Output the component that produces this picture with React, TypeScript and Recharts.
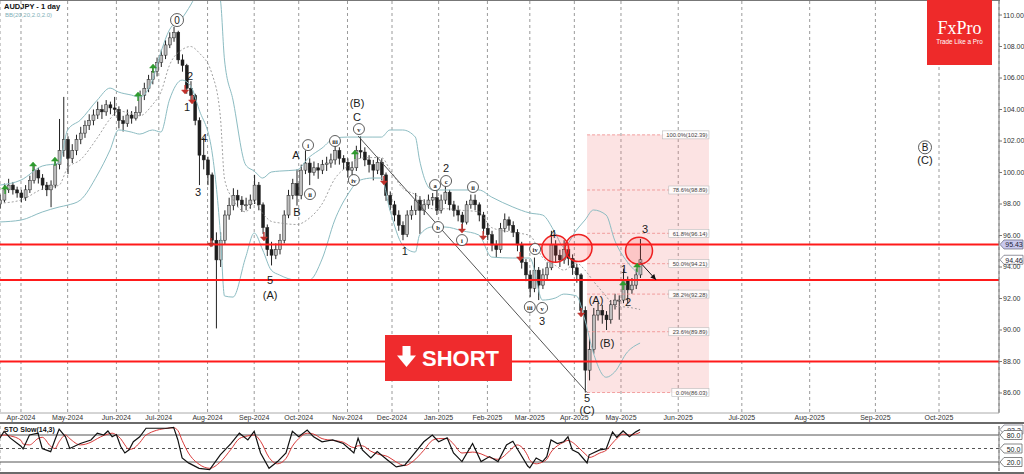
import React from 'react';
import { ComposedChart, Bar, Line, XAxis, YAxis, CartesianGrid, ReferenceLine, ReferenceArea, ReferenceDot } from 'recharts';

// x axis is counted in trading days, slot 0 = 1 Apr 2024; one candle per 2 days
const FIRST_SLOT = -10;

// [open, high, low, close]
const ohlc: [number, number, number, number][] = [
  [98.0, 98.6, 97.7, 98.25], [98.25, 99.3, 98.1, 98.9], [98.9, 99.6, 98.7, 99.2], [99.2, 99.4, 98.6, 98.9],
  [98.9, 99.1, 98.4, 98.7], [98.7, 98.9, 98.1, 98.4], [98.4, 99.2, 98.2, 98.9], [98.9, 99.8, 98.7, 99.5],
  [99.5, 100.5, 99.3, 100.15], [100.15, 100.3, 99.3, 99.65], [99.65, 99.9, 98.9, 99.2], [99.2, 99.4, 98.5, 98.9],
  [98.9, 99.5, 97.8, 99.2], [99.2, 100.7, 99.0, 100.5], [100.5, 103.4, 100.2, 101.4], [101.4, 104.8, 101.0, 102.1],
  [102.1, 102.3, 99.9, 100.9], [100.9, 101.8, 100.6, 101.4], [101.4, 102.4, 101.1, 102.1], [102.1, 102.9, 101.8, 102.5],
  [102.5, 103.3, 102.2, 103.0], [103.0, 103.7, 102.7, 103.3], [103.3, 104.0, 103.0, 103.65], [103.65, 104.5, 103.4, 104.0],
  [104.0, 104.3, 103.4, 103.85], [103.85, 104.6, 103.6, 104.3], [104.3, 104.5, 103.7, 104.1], [104.1, 104.8, 103.6, 104.0],
  [104.0, 104.2, 102.8, 103.3], [103.3, 103.6, 102.6, 103.1], [103.1, 104.0, 102.9, 103.65], [103.65, 103.9, 103.1, 103.45],
  [103.45, 104.2, 103.3, 103.8], [103.8, 105.2, 103.6, 104.9], [104.9, 105.7, 104.6, 105.35], [105.35, 106.2, 105.1, 105.9],
  [105.9, 106.7, 105.6, 106.4], [106.4, 107.3, 106.1, 107.0], [107.0, 107.8, 106.7, 107.45], [107.45, 108.4, 107.2, 108.1],
  [108.1, 108.9, 107.9, 108.55], [108.55, 109.25, 108.3, 108.9], [108.9, 109.0, 106.9, 107.15], [107.15, 107.5, 106.4, 106.8],
  [106.8, 106.9, 105.0, 105.35], [105.35, 105.8, 104.5, 104.9], [104.9, 105.0, 103.0, 103.3], [103.3, 103.5, 99.2, 101.1],
  [101.1, 102.2, 100.2, 100.8], [100.8, 101.0, 99.2, 99.85], [99.85, 100.0, 95.3, 95.7], [95.7, 96.2, 90.1, 94.45],
  [94.45, 96.2, 94.0, 95.7], [95.7, 97.6, 95.4, 97.3], [97.3, 98.4, 97.0, 97.9], [97.9, 99.0, 97.6, 98.55],
  [98.55, 98.9, 97.8, 98.25], [98.25, 98.5, 97.5, 97.95], [97.95, 98.4, 97.6, 97.95], [97.95, 98.6, 97.7, 98.25],
  [98.25, 99.85, 98.0, 99.2], [99.2, 99.4, 97.6, 97.95], [97.95, 98.1, 96.1, 96.5], [96.5, 96.7, 94.7, 95.1],
  [95.1, 95.6, 94.1, 94.75], [94.75, 95.5, 94.5, 95.1], [95.1, 96.1, 94.8, 95.7], [95.7, 97.6, 95.5, 97.3],
  [97.3, 98.9, 97.1, 98.55], [98.55, 99.6, 98.3, 99.3], [99.3, 100.2, 97.9, 98.55], [98.55, 100.5, 98.3, 100.15],
  [100.15, 101.4, 99.9, 100.6], [100.6, 100.9, 99.2, 100.0], [100.0, 100.7, 99.8, 100.3], [100.3, 100.6, 99.6, 100.15],
  [100.15, 100.8, 99.9, 100.5], [100.5, 101.0, 100.1, 100.6], [100.6, 101.2, 100.3, 100.8], [100.8, 102.05, 100.5, 101.4],
  [101.4, 101.6, 100.5, 100.9], [100.9, 101.1, 100.2, 100.65], [100.65, 100.9, 99.7, 100.15], [100.15, 100.7, 99.8, 100.3],
  [100.3, 101.7, 100.1, 101.4], [101.4, 102.3, 100.9, 101.3], [101.3, 101.6, 100.4, 100.8], [100.8, 101.1, 100.0, 100.5],
  [100.5, 100.8, 99.5, 100.15], [100.15, 101.0, 99.9, 100.65], [100.65, 100.9, 99.5, 99.85], [99.85, 100.0, 98.2, 98.55],
  [98.55, 98.8, 97.6, 97.95], [97.95, 98.2, 96.9, 97.3], [97.3, 97.6, 96.3, 96.65], [96.65, 96.9, 95.7, 96.05],
  [96.05, 97.6, 95.9, 97.3], [97.3, 97.9, 97.0, 97.6], [97.6, 98.7, 97.3, 98.25], [98.25, 98.5, 96.1, 97.6],
  [97.6, 98.3, 97.3, 97.95], [97.95, 98.6, 97.7, 98.25], [98.25, 98.7, 97.9, 98.4], [98.4, 98.9, 97.3, 97.6],
  [97.6, 98.6, 97.4, 98.25], [98.25, 99.1, 98.0, 98.75], [98.75, 98.9, 97.6, 97.95], [97.95, 98.2, 97.2, 97.6],
  [97.6, 97.9, 96.9, 97.3], [97.3, 97.5, 96.3, 96.85], [96.85, 98.2, 96.7, 97.95], [97.95, 98.6, 97.7, 98.25],
  [98.25, 98.6, 97.6, 97.95], [97.95, 98.1, 96.9, 97.3], [97.3, 97.5, 96.1, 96.45], [96.45, 96.8, 95.7, 96.05],
  [96.05, 96.3, 95.0, 95.4], [95.4, 95.7, 94.6, 95.1], [95.1, 96.8, 94.9, 96.45], [96.45, 97.4, 96.2, 97.0],
  [97.0, 97.2, 96.3, 96.65], [96.65, 96.9, 95.9, 96.2], [96.2, 96.4, 95.0, 95.4], [95.4, 95.6, 93.9, 94.3],
  [94.3, 94.5, 93.1, 93.5], [93.5, 93.8, 92.1, 92.65], [92.65, 94.6, 92.4, 93.8], [93.8, 94.0, 91.9, 92.85],
  [92.85, 93.9, 92.6, 93.5], [93.5, 94.3, 93.2, 93.95], [93.95, 96.3, 93.8, 95.4], [95.4, 95.7, 94.3, 94.75],
  [94.75, 95.1, 94.0, 94.45], [94.45, 95.7, 94.2, 95.1], [95.1, 95.4, 94.1, 94.55], [94.55, 94.8, 93.5, 93.95],
  [93.95, 94.2, 93.0, 93.5], [93.5, 93.6, 90.9, 91.25], [91.25, 91.5, 86.03, 87.45], [87.45, 89.5, 86.8, 88.75],
  [88.75, 91.4, 88.5, 90.95], [90.95, 91.7, 90.6, 91.25], [91.25, 91.6, 90.4, 90.95], [90.95, 91.2, 90.0, 90.65],
  [90.65, 91.9, 90.4, 91.6], [91.6, 92.3, 91.3, 91.9], [91.9, 92.2, 90.65, 91.9], [91.9, 93.9, 91.7, 93.15],
  [93.15, 93.4, 91.7, 92.55], [92.55, 93.3, 92.3, 92.85], [92.85, 93.9, 92.6, 93.5], [93.5, 95.78, 93.3, 94.46],
];

// Bollinger bands
const bbSlots = [-10, 0, 10, 18, 22, 28, 36, 42, 46, 52, 56, 62, 66, 70, 76, 80, 84, 90, 94, 96, 100, 106, 110, 114, 118, 122, 130, 136, 142, 148, 154, 160, 166, 170, 174, 180, 186, 188, 194, 200, 208, 216, 222, 232, 240, 246, 252, 256, 262, 266, 270, 276, 280, 286, 292];
const bbUpper = [99.2, 99.52, 100.41, 100.6, 102.7, 103.33, 104.6, 105.36, 105.11, 104.92, 104.79, 105.87, 107.65, 109.05, 109.81, 110.63, 111.6, 112.2, 111.0, 107.14, 104.6, 100.48, 100.09, 99.65, 100.03, 100.09, 100.16, 100.98, 101.55, 102.19, 102.25, 102.25, 102.25, 102.25, 102.7, 102.7, 102.25, 100.79, 98.89, 98.89, 98.89, 98.89, 98.44, 97.81, 97.43, 97.3, 96.16, 95.27, 96.35, 96.98, 97.62, 97.3, 95.71, 94.32, 93.49];
const bbMid = [98.05, 98.25, 98.95, 99.2, 100.3, 100.8, 102.2, 103.4, 103.9, 103.75, 103.6, 104.3, 105.1, 106.8, 107.8, 108.0, 107.6, 106.3, 103.6, 99.6, 98.3, 97.5, 98.1, 97.4, 96.9, 96.8, 96.7, 97.1, 98.0, 99.6, 100.4, 100.9, 100.95, 100.95, 100.2, 99.0, 98.6, 98.4, 97.7, 97.7, 97.6, 97.5, 96.5, 96.2, 96.0, 94.6, 94.1, 93.8, 94.25, 93.8, 93.1, 92.15, 91.5, 91.45, 91.3];
const bbLower = [96.86, 96.98, 97.49, 97.81, 97.93, 98.25, 99.84, 101.43, 102.7, 102.57, 102.44, 102.7, 102.57, 104.6, 105.87, 105.5, 104.0, 101.4, 96.2, 92.16, 92.09, 94.63, 96.16, 95.08, 93.81, 93.49, 93.17, 93.17, 94.5, 96.98, 98.57, 99.52, 99.65, 99.65, 97.62, 95.4, 94.95, 96.03, 96.54, 96.54, 96.3, 96.03, 94.63, 94.57, 94.57, 91.9, 92.03, 92.28, 92.16, 90.63, 88.54, 87.0, 87.33, 88.6, 89.17];

// Stochastic slow (14,3)
const stochSlots = [-10, -8, -5, 0, 1, 4, 8, 10, 14, 16, 18, 21, 23, 28, 33, 36, 39, 41, 43, 45, 47, 49, 51, 53, 56, 59, 69, 72, 74, 76, 79, 84, 89, 94, 99, 103, 107, 110, 113, 117, 121, 125, 128, 131, 135, 138, 142, 147, 152, 157, 159, 161, 165, 168, 173, 177, 181, 185, 190, 194, 197, 201, 204, 208, 213, 217, 221, 225, 229, 232, 234, 239, 240, 243, 246, 248, 250, 253, 256, 258, 260, 263, 267, 268, 273, 276, 279, 281, 284, 287, 290, 292];
const stochK = [73, 88, 73, 55, 49, 80, 84, 50, 43, 69, 93, 76, 50, 61, 69, 84, 80, 89, 76, 81, 55, 40, 47, 65, 76, 95, 95, 97, 69, 29, 18, 6, 3, 36, 61, 84, 69, 88, 40, 6, 21, 40, 88, 76, 91, 76, 65, 69, 61, 40, 73, 47, 29, 43, 24, 9, 13, 36, 65, 80, 65, 74, 40, 21, 61, 21, 32, 21, 58, 66, 50, 11, 7, 29, 21, 32, 69, 61, 65, 76, 47, 40, 18, 36, 47, 49, 87, 75, 89, 76, 87, 92.2];
const stochD = [78, 80, 78, 68, 60, 58, 72, 75, 55, 50, 65, 80, 72, 58, 64, 72, 79, 82, 84, 80, 72, 58, 48, 50, 63, 80, 95, 96, 90, 68, 40, 15, 6, 20, 48, 72, 78, 80, 66, 30, 16, 28, 55, 72, 84, 82, 72, 68, 64, 52, 56, 56, 44, 38, 32, 20, 12, 22, 46, 68, 72, 72, 60, 40, 42, 38, 30, 26, 38, 52, 58, 34, 24, 16, 20, 26, 42, 56, 64, 68, 64, 52, 34, 30, 40, 46, 62, 72, 82, 80, 82, 86];

const monthTicks = [0, 22, 45, 65, 88, 110, 131, 154, 175, 197, 220, 240, 261, 283, 310, 340, 372, 403, 433];
const monthLabels = ['Apr-2024', 'May-2024', 'Jun-2024', 'Jul-2024', 'Aug-2024', 'Sep-2024', 'Oct-2024', 'Nov-2024', 'Dec-2024', 'Jan-2025', 'Feb-2025', 'Mar-2025', 'Apr-2025', 'May-2025', 'Jun-2025', 'Jul-2025', 'Aug-2025', 'Sep-2025', 'Oct-2025'];
const priceTicks = [86, 88, 90, 92, 94, 96, 98, 100, 102, 104, 106, 108, 110];

const keyLevels = [95.43, 93.17, 88.0];
const fibPct = ['100.0%', '78.6%', '61.8%', '50.0%', '38.2%', '23.6%', '0.0%'];
const fibPrice = [102.39, 98.89, 96.14, 94.21, 92.28, 89.89, 86.03];
const fibFrom = 267;
const fibTo = 324.5;

// wave labels: slot, price, text, circled
const waves: [number, number, string, boolean][] = [
  [73.6, 109.68, '0', true], [79.7, 106.1, '2', false], [78.3, 104.16, '1', false], [86.3, 102.2, '4', false],
  [83.5, 98.76, '3', false], [117.5, 93.17, '5', false], [117.5, 92.2, '(A)', false], [129.7, 101.1, 'A', false],
  [130.2, 97.5, 'B', false], [135.4, 101.74, 'i', true], [136.3, 98.63, 'ii', true], [148.1, 102.0, 'iii', true],
  [157, 99.52, 'iv', true], [159.4, 102.76, 'v', true], [158.5, 103.55, 'C', false], [158.5, 104.4, '(B)', false],
  [181, 95.0, '1', false], [195.3, 99.2, 'a', true], [196.7, 96.54, 'b', true], [200.5, 99.46, 'c', true],
  [200.5, 100.3, '2', false], [208, 95.71, 'i', true], [213.2, 99.08, 'ii', true], [240, 91.46, 'iii', true],
  [242.5, 95.14, 'iv', true], [245.8, 91.4, 'v', true], [245.8, 90.57, '3', false], [251, 96.1, '4', false],
  [267, 85.68, '5', false], [267, 84.95, '(C)', false], [271.2, 91.9, '(A)', false], [276.4, 89.2, '(B)', false],
  [284.4, 93.9, '1', false], [286.3, 91.8, '2', false], [294.3, 96.4, '3', false],
  [426.4, 101.6, 'B', true], [426.4, 100.8, '(C)', false],
];

const buySignals: [number, number][] = [[-7.5, 98.89], [5.7, 100.35], [16, 100.66], [55.2, 104.79], [62.3, 106.57], [157.5, 101.11], [284, 92.8], [290.6, 93.93]];
const sellSignals: [number, number][] = [[77.4, 105.3], [80.7, 104.67], [89.6, 95.58], [114.6, 95.97], [171.2, 99.52], [208, 96.47], [218, 96.03], [235.4, 94.7], [264.2, 91.14]];
const hotspots: [number, number][] = [[252, 95.16], [263, 95.2], [291.5, 95.03]];

const rows = new Map<number, any>();
const rowAt = (s: number) => {
  if (!rows.has(s)) rows.set(s, { slot: s });
  return rows.get(s);
};
ohlc.forEach(([o, h, l, c], i) => Object.assign(rowAt(FIRST_SLOT + 2 * i), { o, h, l, c, range: [l, h] }));
bbSlots.forEach((s, i) => Object.assign(rowAt(s), { up: bbUpper[i], mid: bbMid[i], lo: bbLower[i] }));
const priceData = [...rows.values()].sort((a, b) => a.slot - b.slot);
const stochData = stochSlots.map((s, i) => ({ slot: s, k: stochK[i], d: stochD[i] }));

const X_DOMAIN: [number, number] = [-9.9, 461.3];
const FONT = '"Liberation Sans", Arial, sans-serif';

const Candle = (props: any) => {
  const { x, y, width, height, payload } = props;
  if (!payload || payload.o == null) return null;
  const top = Math.min(y, y + height);
  const h = Math.abs(height);
  const span = payload.h - payload.l || 1;
  const yO = top + ((payload.h - payload.o) / span) * h;
  const yC = top + ((payload.h - payload.c) / span) * h;
  const cx = x + width / 2;
  const up = payload.c >= payload.o;
  return (
    <g>
      <line x1={cx} x2={cx} y1={top} y2={top + h} stroke="#222" strokeWidth={1} />
      <rect x={cx - 1.5} y={Math.min(yO, yC)} width={3} height={Math.max(1, Math.abs(yC - yO))}
        fill={up ? '#bdbdbd' : '#1e1e1e'} stroke="#222" strokeWidth={0.5} />
    </g>
  );
};

const WaveMark = ({ cx, cy, text, circled }: any) => {
  if (cx == null) return null;
  if (!circled) {
    return <text x={cx} y={cy} textAnchor="middle" dominantBaseline="central" fontSize={11} fontFamily={FONT} fill="#1a1a1a">{text}</text>;
  }
  const big = text === '0' || text === 'B';
  return (
    <g>
      <circle cx={cx} cy={cy} r={big ? 6.5 : 5.5} fill="#fff" stroke="#333" strokeWidth={0.8} />
      <text x={cx} y={cy + 0.5} textAnchor="middle" dominantBaseline="central" fontSize={big ? 10 : 6.5}
        fontFamily={big ? FONT : '"Liberation Serif", serif'} fontWeight={big ? 400 : 700} fill="#1a1a1a">{text}</text>
    </g>
  );
};

const SignalMark = ({ cx, cy, up }: any) => {
  if (cx == null) return null;
  const col = up ? '#2e9b2e' : '#c0302a';
  const d = up ? -1 : 1;
  return (
    <g stroke={col} fill={col} strokeWidth={1.4}>
      <line x1={cx} x2={cx} y1={cy - 4 * d} y2={cy + 3 * d} />
      <path d={`M${cx - 3.5},${cy + 1 * d} L${cx + 3.5},${cy + 1 * d} L${cx},${cy + 5 * d} Z`} strokeWidth={0.5} />
    </g>
  );
};

const FibTag = ({ cx, cy, text }: any) => {
  if (cx == null) return null;
  const w = text.length * 3.1 + 3;
  return (
    <g>
      <rect x={cx - w} y={cy - 4} width={w} height={8} fill="#fff" fillOpacity={0.85} stroke="#bbb" strokeWidth={0.6} />
      <text x={cx - 1.5} y={cy + 0.5} textAnchor="end" dominantBaseline="central" fontSize={5.8} fontFamily={FONT} fill="#444">{text}</text>
    </g>
  );
};

const priceTag = (text: string, bg: string) => (props: any) => {
  const vb = props.viewBox || {};
  const x = (vb.x ?? 0) + (vb.width ?? 0);
  const y = vb.y ?? 0;
  return (
    <g>
      <path d={`M${x + 1},${y} l4,-4.5 h19 v9 h-19 z`} fill={bg} stroke="#667" strokeWidth={0.7} />
      <text x={x + 15} y={y + 0.5} fontSize={7} fontFamily={FONT} textAnchor="middle" dominantBaseline="central" fill="#223">{text}</text>
    </g>
  );
};

const ArrowShape = (props: any) => {
  const { x1, y1, x2, y2 } = props;
  if (x1 == null) return null;
  const ang = Math.atan2(y2 - y1, x2 - x1);
  const L = 6;
  const a1 = ang + Math.PI - 0.45;
  const a2 = ang + Math.PI + 0.45;
  return (
    <g>
      <line x1={x1} y1={y1} x2={x2} y2={y2} stroke="#111" strokeWidth={1} />
      <path d={`M${x2},${y2} L${x2 + L * Math.cos(a1)},${y2 + L * Math.sin(a1)} L${x2 + L * Math.cos(a2)},${y2 + L * Math.sin(a2)} Z`} fill="#111" />
    </g>
  );
};

const StochTick = ({ x, y, payload }: any) => (
  <g>
    <path d={`M${x + 1},${y} l4,-4.5 h18 v9 h-18 z`} fill="#fff" stroke="#555" strokeWidth={0.7} />
    <text x={x + 14.5} y={y + 0.5} fontSize={7} fontFamily={FONT} textAnchor="middle" dominantBaseline="central" fill="#222">{payload.value.toFixed(1)}</text>
  </g>
);

export default function App() {
  return (
    <div style={{ position: 'absolute', left: 0, top: 0, width: 1024, height: 474, background: '#fff', overflow: 'hidden', fontFamily: FONT }}>
      <div style={{ position: 'absolute', left: 0, top: 0, width: 1000, height: 1, background: '#777' }} />
      <ComposedChart width={1024} height={424} data={priceData} margin={{ top: 1, right: 0, left: 0, bottom: 0 }}>
        <CartesianGrid horizontal={false} stroke="#9a9a9a" strokeDasharray="3 3" />
        <XAxis type="number" dataKey="slot" domain={X_DOMAIN} allowDataOverflow ticks={monthTicks} interval={0}
          tickFormatter={(v: number) => monthLabels[monthTicks.indexOf(v)] ?? ''} height={11} tickLine={false}
          tickSize={0} tickMargin={2} axisLine={{ stroke: '#aaa' }} tick={{ fontSize: 7, fill: '#333', fontFamily: FONT }} />
        <YAxis orientation="right" width={25} domain={[84.73, 110.89]} allowDataOverflow ticks={priceTicks} interval={0}
          tickFormatter={(v: number) => v.toFixed(2)} tickSize={3} tickMargin={1} axisLine={{ stroke: '#777' }}
          tickLine={{ stroke: '#777' }} tick={{ fontSize: 7, fill: '#333', fontFamily: FONT }} />
        <ReferenceArea x1={fibFrom} x2={fibTo} y1={fibPrice[6]} y2={fibPrice[0]} fill="#f08080" fillOpacity={0.22} stroke="none" />
        {fibPrice.map((p) => (
          <ReferenceLine key={'f' + p} segment={[{ x: fibFrom, y: p }, { x: fibTo, y: p }]} stroke="#ef8b8b" strokeDasharray="3 2" strokeWidth={0.8} />
        ))}
        <Line dataKey="up" type="monotone" stroke="#8cbcc2" strokeWidth={1} dot={false} connectNulls isAnimationActive={false} />
        <Line dataKey="lo" type="monotone" stroke="#8cbcc2" strokeWidth={1} dot={false} connectNulls isAnimationActive={false} />
        <Line dataKey="mid" type="monotone" stroke="#8a8a8a" strokeWidth={0.8} strokeDasharray="2 2" dot={false} connectNulls isAnimationActive={false} />
        <Bar dataKey="range" barSize={3} shape={Candle} isAnimationActive={false} />
        <ReferenceLine segment={[{ x: 159, y: 102.32 }, { x: 267, y: 86.03 }]} stroke="#555" strokeWidth={1} />
        {keyLevels.map((v, i) => (
          <ReferenceLine key={'k' + v} y={v} stroke="#ff1a1a" strokeWidth={2}
            label={i === 0 ? priceTag('95.43', '#c9c9ee') : undefined} />
        ))}
        <ReferenceLine y={94.46} stroke="none" label={priceTag('94.46', '#ffffff')} />
        {hotspots.map(([s, p]) => (
          <ReferenceDot key={'h' + s} x={s} y={p} r={13.5} fill="#ff3030" fillOpacity={0.16} stroke="#ee2020" strokeWidth={1.5} />
        ))}
        <ReferenceLine segment={[{ x: 292, y: 94.3 }, { x: 299.5, y: 93.19 }]} shape={ArrowShape} />
        {fibPrice.map((p, i) => (
          <ReferenceDot key={'t' + p} x={fibTo} y={p} r={1} shape={(pr: any) => <FibTag {...pr} text={`${fibPct[i]}(${p.toFixed(2)})`} />} />
        ))}
        {buySignals.map(([s, p]) => (
          <ReferenceDot key={'b' + s} x={s} y={p} r={1} shape={(pr: any) => <SignalMark {...pr} up />} />
        ))}
        {sellSignals.map(([s, p]) => (
          <ReferenceDot key={'s' + s} x={s} y={p} r={1} shape={(pr: any) => <SignalMark {...pr} up={false} />} />
        ))}
        {waves.map(([s, p, t, c], i) => (
          <ReferenceDot key={'w' + i} x={s} y={p} r={1} shape={(pr: any) => <WaveMark {...pr} text={t} circled={c} />} />
        ))}
      </ComposedChart>

      <div style={{ position: 'absolute', left: 0, top: 422, width: 1024, height: 2, background: '#6a6a6a' }} />
      <div style={{ position: 'absolute', left: 0, top: 424 }}>
        <ComposedChart width={1024} height={48} data={stochData} margin={{ top: 2, right: 0, left: 0, bottom: 1 }}>
          <CartesianGrid horizontal={false} stroke="#9a9a9a" strokeDasharray="3 3" />
          <XAxis type="number" dataKey="slot" domain={X_DOMAIN} allowDataOverflow ticks={monthTicks} interval={0}
            tick={false} tickLine={false} axisLine={false} height={0} />
          <YAxis orientation="right" width={25} domain={[0, 100]} ticks={[20, 50, 80]} interval={0} tickSize={0}
            tickMargin={0} axisLine={{ stroke: '#777' }} tick={StochTick} />
          <ReferenceLine y={80} stroke="#555" strokeWidth={1} />
          <ReferenceLine y={50} stroke="#555" strokeWidth={1} strokeDasharray="3 3" />
          <ReferenceLine y={20} stroke="#555" strokeWidth={1} />
          <ReferenceLine y={92.2} stroke="none" label={priceTag('92.2', '#ffffff')} />
          <Line dataKey="d" type="monotone" stroke="#d83a3a" strokeWidth={1} dot={false} isAnimationActive={false} />
          <Line dataKey="k" type="linear" stroke="#111" strokeWidth={1.2} dot={false} isAnimationActive={false} />
        </ComposedChart>
      </div>
      <div style={{ position: 'absolute', left: 0, top: 472, width: 1024, height: 2, background: '#6a6a6a' }} />

      <div style={{ position: 'absolute', left: 4, top: 2, fontSize: 7.5, fontWeight: 700, color: '#111' }}>AUDJPY - 1 day</div>
      <div style={{ position: 'absolute', left: 5, top: 12, fontSize: 6, color: '#7fb0b8' }}>BB(20,20,2.0,2.0)</div>
      <div style={{ position: 'absolute', left: 4, top: 426, fontSize: 7, fontWeight: 700, color: '#111' }}>STO Slow(14,3)</div>

      <div style={{ position: 'absolute', left: 927, top: 0, width: 65, height: 65, background: '#ee2a2a', color: '#fff', textAlign: 'center' }}>
        <div style={{ position: 'absolute', left: 0, right: 0, top: 18, fontFamily: '"Liberation Serif", "DejaVu Serif", serif', fontSize: 18, lineHeight: '20px' }}>FxPro</div>
        <div style={{ position: 'absolute', left: 0, right: 0, top: 38, fontSize: 6.3, lineHeight: '8px' }}>Trade Like a Pro</div>
      </div>

      <div style={{ position: 'absolute', left: 385, top: 335, width: 127, height: 46, background: '#ef2b2d' }}>
        <svg width={127} height={46} style={{ position: 'absolute', left: 0, top: 0 }}>
          <rect x={17.5} y={11} width={8} height={11} fill="#fff" />
          <path d="M12,20.5 L31,20.5 L21.5,32 Z" fill="#fff" />
          <text x={37} y={23} dominantBaseline="central" fontSize={22} fontWeight={700} fontFamily={FONT} fill="#fff">SHORT</text>
        </svg>
      </div>
    </div>
  );
}
